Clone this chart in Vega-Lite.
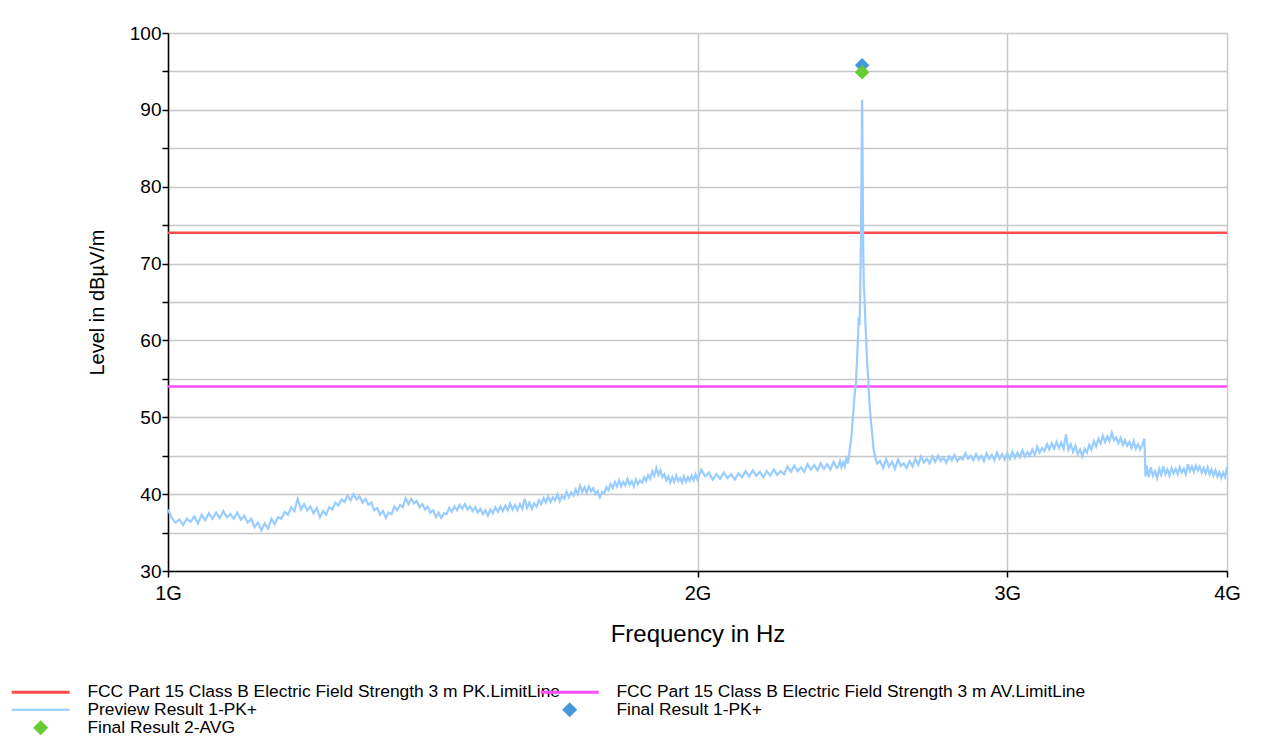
{
  "$schema": "https://vega.github.io/schema/vega-lite/v6.json",
  "autosize": {"type": "none"},
  "width": 1059,
  "height": 538,
  "padding": {"left": 168, "top": 33, "right": 36, "bottom": 170},
  "background": "white",
  "config": {
    "font": "Liberation Sans",
    "view": {"stroke": null},
    "axis": {
      "domainColor": "#000000",
      "domainWidth": 1.5,
      "tickColor": "#000000",
      "tickWidth": 1.5,
      "gridColor": "#c8c8c8",
      "gridWidth": 1.5,
      "labelColor": "#000000",
      "titleColor": "#000000",
      "labelFont": "Liberation Sans",
      "titleFont": "Liberation Sans",
      "titleFontWeight": "normal"
    },
    "legend": {"labelColor": "#000000", "labelFont": "Liberation Sans"}
  },
  "datasets": {
    "limits": [
      {"series": "FCC Part 15 Class B Electric Field Strength 3 m PK.LimitLine", "f": 1, "l": 74},
      {"series": "FCC Part 15 Class B Electric Field Strength 3 m PK.LimitLine", "f": 4, "l": 74},
      {"series": "FCC Part 15 Class B Electric Field Strength 3 m AV.LimitLine", "f": 1, "l": 54},
      {"series": "FCC Part 15 Class B Electric Field Strength 3 m AV.LimitLine", "f": 4, "l": 54}
    ],
    "finals": [
      {"series": "Final Result 1-PK+", "f": 2.481, "l": 95.8},
      {"series": "Final Result 2-AVG", "f": 2.481, "l": 94.9}
    ],
    "preview": [
      {"f":1.000,"l":38.0},{"f":1.005,"l":36.9},{"f":1.010,"l":36.3},{"f":1.015,"l":36.7},{"f":1.020,"l":36.0},{"f":1.025,"l":36.8},{"f":1.030,"l":36.4},{"f":1.035,"l":37.1},{"f":1.040,"l":36.2},{"f":1.045,"l":37.3},{"f":1.050,"l":36.6},{"f":1.055,"l":37.5},{"f":1.060,"l":36.8},{"f":1.065,"l":37.6},{"f":1.070,"l":36.9},{"f":1.075,"l":37.8},{"f":1.080,"l":37.0},{"f":1.085,"l":37.4},{"f":1.090,"l":36.8},{"f":1.095,"l":37.6},{"f":1.100,"l":36.7},
      {"f":1.105,"l":37.2},{"f":1.110,"l":36.3},{"f":1.115,"l":36.8},{"f":1.120,"l":35.7},{"f":1.125,"l":36.3},{"f":1.130,"l":35.3},{"f":1.135,"l":36.2},{"f":1.140,"l":35.5},{"f":1.145,"l":36.8},{"f":1.150,"l":36.1},{"f":1.155,"l":37.0},{"f":1.160,"l":36.8},{"f":1.165,"l":37.7},{"f":1.170,"l":37.3},{"f":1.175,"l":38.3},{"f":1.180,"l":37.8},{"f":1.185,"l":39.4},{"f":1.190,"l":38.0},{"f":1.195,"l":38.7},{"f":1.200,"l":37.9},
      {"f":1.205,"l":38.4},{"f":1.210,"l":37.5},{"f":1.215,"l":38.2},{"f":1.220,"l":37.0},{"f":1.225,"l":37.8},{"f":1.230,"l":37.3},{"f":1.235,"l":38.3},{"f":1.240,"l":38.0},{"f":1.245,"l":38.9},{"f":1.250,"l":38.5},{"f":1.255,"l":39.3},{"f":1.260,"l":39.0},{"f":1.265,"l":39.8},{"f":1.270,"l":39.2},{"f":1.275,"l":40.0},{"f":1.280,"l":39.3},{"f":1.285,"l":39.7},{"f":1.290,"l":38.9},{"f":1.295,"l":39.4},{"f":1.300,"l":38.6},
      {"f":1.305,"l":38.9},{"f":1.310,"l":37.9},{"f":1.315,"l":38.2},{"f":1.320,"l":37.3},{"f":1.325,"l":37.8},{"f":1.330,"l":36.9},{"f":1.335,"l":37.6},{"f":1.340,"l":37.4},{"f":1.345,"l":38.4},{"f":1.350,"l":37.9},{"f":1.355,"l":38.6},{"f":1.360,"l":38.3},{"f":1.365,"l":39.5},{"f":1.370,"l":38.7},{"f":1.375,"l":39.4},{"f":1.380,"l":38.8},{"f":1.385,"l":39.1},{"f":1.390,"l":38.3},{"f":1.395,"l":38.7},{"f":1.400,"l":38.0},
      {"f":1.405,"l":38.4},{"f":1.410,"l":37.6},{"f":1.415,"l":37.9},{"f":1.420,"l":37.0},{"f":1.425,"l":37.6},{"f":1.430,"l":36.9},{"f":1.435,"l":37.5},{"f":1.440,"l":37.4},{"f":1.445,"l":38.2},{"f":1.450,"l":37.7},{"f":1.455,"l":38.4},{"f":1.460,"l":37.9},{"f":1.465,"l":38.6},{"f":1.470,"l":38.1},{"f":1.475,"l":38.7},{"f":1.480,"l":38.0},{"f":1.485,"l":38.4},{"f":1.490,"l":37.8},{"f":1.495,"l":38.3},{"f":1.500,"l":37.6},
      {"f":1.505,"l":38.1},{"f":1.510,"l":37.4},{"f":1.515,"l":37.9},{"f":1.520,"l":37.2},{"f":1.525,"l":38.0},{"f":1.530,"l":37.5},{"f":1.535,"l":38.3},{"f":1.540,"l":37.7},{"f":1.545,"l":38.4},{"f":1.550,"l":37.8},{"f":1.555,"l":38.5},{"f":1.560,"l":37.9},{"f":1.565,"l":38.8},{"f":1.570,"l":38.0},{"f":1.575,"l":38.6},{"f":1.580,"l":37.9},{"f":1.585,"l":38.7},{"f":1.590,"l":38.1},{"f":1.595,"l":39.4},{"f":1.600,"l":38.2},
      {"f":1.605,"l":38.9},{"f":1.610,"l":38.1},{"f":1.615,"l":38.8},{"f":1.620,"l":38.4},{"f":1.625,"l":39.2},{"f":1.630,"l":38.7},{"f":1.635,"l":39.5},{"f":1.640,"l":38.9},{"f":1.645,"l":39.7},{"f":1.650,"l":39.0},{"f":1.655,"l":39.6},{"f":1.660,"l":39.2},{"f":1.665,"l":40.0},{"f":1.670,"l":39.1},{"f":1.675,"l":39.8},{"f":1.680,"l":39.4},{"f":1.685,"l":40.3},{"f":1.690,"l":39.6},{"f":1.695,"l":40.2},{"f":1.700,"l":39.8},
      {"f":1.705,"l":40.6},{"f":1.710,"l":40.0},{"f":1.715,"l":41.1},{"f":1.720,"l":40.3},{"f":1.725,"l":40.9},{"f":1.730,"l":40.2},{"f":1.735,"l":41.0},{"f":1.740,"l":40.4},{"f":1.745,"l":40.8},{"f":1.750,"l":40.0},{"f":1.755,"l":40.4},{"f":1.760,"l":39.6},{"f":1.765,"l":40.3},{"f":1.770,"l":40.1},{"f":1.775,"l":40.9},{"f":1.780,"l":40.5},{"f":1.785,"l":41.3},{"f":1.790,"l":40.8},{"f":1.795,"l":41.6},{"f":1.800,"l":41.0},
      {"f":1.805,"l":41.8},{"f":1.810,"l":41.0},{"f":1.815,"l":41.6},{"f":1.820,"l":41.1},{"f":1.825,"l":42.0},{"f":1.830,"l":41.2},{"f":1.835,"l":41.7},{"f":1.840,"l":41.0},{"f":1.845,"l":41.9},{"f":1.850,"l":41.3},{"f":1.855,"l":41.8},{"f":1.860,"l":41.5},{"f":1.865,"l":42.2},{"f":1.870,"l":41.7},{"f":1.875,"l":42.5},{"f":1.880,"l":42.0},{"f":1.885,"l":43.0},{"f":1.890,"l":42.4},{"f":1.895,"l":43.4},{"f":1.900,"l":42.5},
      {"f":1.905,"l":43.1},{"f":1.910,"l":42.2},{"f":1.915,"l":42.6},{"f":1.920,"l":41.8},{"f":1.925,"l":42.3},{"f":1.930,"l":41.5},{"f":1.935,"l":42.2},{"f":1.940,"l":41.6},{"f":1.945,"l":42.4},{"f":1.950,"l":41.7},{"f":1.955,"l":42.1},{"f":1.960,"l":41.5},{"f":1.965,"l":42.3},{"f":1.970,"l":41.6},{"f":1.975,"l":42.2},{"f":1.980,"l":41.7},{"f":1.985,"l":42.4},{"f":1.990,"l":41.8},{"f":1.995,"l":42.6},{"f":2.000,"l":41.9},
      {"f":2.01,"l":43.2},{"f":2.02,"l":42.3},{"f":2.03,"l":42.8},{"f":2.04,"l":41.9},{"f":2.05,"l":42.6},{"f":2.06,"l":42.0},{"f":2.07,"l":42.8},{"f":2.08,"l":42.1},{"f":2.09,"l":42.6},{"f":2.10,"l":41.9},{"f":2.11,"l":42.7},{"f":2.12,"l":42.2},{"f":2.13,"l":43.0},{"f":2.14,"l":42.3},{"f":2.15,"l":43.1},{"f":2.16,"l":42.4},{"f":2.17,"l":42.9},{"f":2.18,"l":42.2},{"f":2.19,"l":43.0},{"f":2.20,"l":42.4},
      {"f":2.21,"l":43.2},{"f":2.22,"l":42.5},{"f":2.23,"l":43.0},{"f":2.24,"l":42.6},{"f":2.25,"l":43.6},{"f":2.26,"l":42.9},{"f":2.27,"l":43.7},{"f":2.28,"l":43.0},{"f":2.29,"l":43.5},{"f":2.30,"l":42.9},{"f":2.31,"l":43.9},{"f":2.32,"l":43.2},{"f":2.33,"l":43.8},{"f":2.34,"l":43.1},{"f":2.35,"l":44.0},{"f":2.36,"l":43.3},{"f":2.37,"l":43.9},{"f":2.38,"l":43.2},{"f":2.39,"l":44.2},{"f":2.40,"l":43.4},
      {"f":2.405,"l":43.6},{"f":2.410,"l":44.3},{"f":2.415,"l":43.5},{"f":2.420,"l":44.1},{"f":2.425,"l":43.6},{"f":2.430,"l":44.6},{"f":2.435,"l":44.0},{"f":2.440,"l":45.3},{"f":2.4415,"l":46.0},{"f":2.445,"l":47.0},{"f":2.448,"l":48.2},{"f":2.451,"l":50.0},{"f":2.455,"l":52.0},{"f":2.458,"l":53.6},{"f":2.461,"l":54.5},{"f":2.4645,"l":57.5},{"f":2.4677,"l":60.5},{"f":2.470,"l":63.0},{"f":2.4725,"l":62.0},{"f":2.4742,"l":65.0},{"f":2.4775,"l":74.0},{"f":2.4795,"l":85.0},{"f":2.481,"l":91.3},{"f":2.4825,"l":84.0},{"f":2.4844,"l":72.0},{"f":2.4865,"l":67.0},{"f":2.4877,"l":66.5},{"f":2.4910,"l":63.0},{"f":2.4943,"l":60.0},{"f":2.4975,"l":57.0},{"f":2.501,"l":55.0},{"f":2.504,"l":52.5},{"f":2.5075,"l":50.5},{"f":2.511,"l":49.0},{"f":2.514,"l":47.8},{"f":2.518,"l":46.0},{"f":2.5237,"l":44.8},{"f":2.53,"l":44.0},
      {"f":2.54,"l":44.3},{"f":2.55,"l":43.4},{"f":2.56,"l":44.6},{"f":2.57,"l":43.6},{"f":2.58,"l":44.2},{"f":2.59,"l":43.3},{"f":2.60,"l":44.5},{"f":2.61,"l":43.7},{"f":2.62,"l":44.0},{"f":2.63,"l":43.4},{"f":2.64,"l":44.3},{"f":2.65,"l":43.6},{"f":2.66,"l":44.6},{"f":2.67,"l":43.8},{"f":2.68,"l":44.9},{"f":2.69,"l":44.1},{"f":2.70,"l":44.6},{"f":2.71,"l":44.0},{"f":2.72,"l":44.9},{"f":2.73,"l":44.2},{"f":2.74,"l":45.0},{"f":2.75,"l":44.3},{"f":2.76,"l":44.8},{"f":2.77,"l":44.1},{"f":2.78,"l":44.9},{"f":2.79,"l":44.4},{"f":2.80,"l":45.1},{"f":2.81,"l":44.3},{"f":2.82,"l":44.8},{"f":2.83,"l":44.5},{"f":2.84,"l":45.3},{"f":2.85,"l":44.6},{"f":2.86,"l":45.0},{"f":2.87,"l":44.4},{"f":2.88,"l":45.2},{"f":2.89,"l":44.5},{"f":2.90,"l":45.0},{"f":2.91,"l":44.3},{"f":2.92,"l":45.3},{"f":2.93,"l":44.6},{"f":2.94,"l":45.1},{"f":2.95,"l":44.4},{"f":2.96,"l":45.4},{"f":2.97,"l":44.6},{"f":2.98,"l":45.2},{"f":2.99,"l":44.5},
      {"f":3.00,"l":45.3},{"f":3.01,"l":44.6},{"f":3.02,"l":45.5},{"f":3.03,"l":44.7},{"f":3.04,"l":45.4},{"f":3.05,"l":44.8},{"f":3.06,"l":45.7},{"f":3.07,"l":44.9},{"f":3.08,"l":45.5},{"f":3.09,"l":45.0},{"f":3.10,"l":45.8},{"f":3.11,"l":45.1},{"f":3.12,"l":46.2},{"f":3.13,"l":45.4},{"f":3.14,"l":46.0},{"f":3.15,"l":45.6},{"f":3.16,"l":46.5},{"f":3.17,"l":45.8},{"f":3.18,"l":46.6},{"f":3.19,"l":45.9},{"f":3.20,"l":46.8},{"f":3.21,"l":46.0},{"f":3.22,"l":46.7},{"f":3.23,"l":45.9},{"f":3.24,"l":47.8},{"f":3.25,"l":45.8},{"f":3.26,"l":46.5},{"f":3.27,"l":45.5},{"f":3.28,"l":46.3},{"f":3.29,"l":45.2},{"f":3.30,"l":45.8},{"f":3.31,"l":44.9},{"f":3.32,"l":45.9},{"f":3.33,"l":45.4},{"f":3.34,"l":46.4},{"f":3.35,"l":45.8},{"f":3.36,"l":46.9},{"f":3.37,"l":46.2},{"f":3.38,"l":47.2},{"f":3.39,"l":46.6},{"f":3.40,"l":47.6},{"f":3.41,"l":46.8},{"f":3.42,"l":47.5},{"f":3.43,"l":46.9},{"f":3.44,"l":48.0},{"f":3.45,"l":47.0},{"f":3.46,"l":47.4},{"f":3.47,"l":46.6},{"f":3.48,"l":47.3},{"f":3.49,"l":46.4},{"f":3.50,"l":47.0},{"f":3.51,"l":46.3},{"f":3.52,"l":46.8},{"f":3.53,"l":46.0},{"f":3.54,"l":46.9},{"f":3.55,"l":45.9},{"f":3.56,"l":46.5},{"f":3.57,"l":45.8},{"f":3.58,"l":46.4},{"f":3.59,"l":47.2},
      {"f":3.595,"l":42.3},{"f":3.60,"l":43.8},{"f":3.61,"l":42.2},{"f":3.62,"l":43.5},{"f":3.63,"l":42.4},{"f":3.64,"l":43.0},{"f":3.65,"l":42.1},{"f":3.66,"l":43.3},{"f":3.67,"l":42.5},{"f":3.68,"l":43.6},{"f":3.69,"l":42.6},{"f":3.70,"l":43.2},{"f":3.71,"l":42.4},{"f":3.72,"l":43.4},{"f":3.73,"l":42.7},{"f":3.74,"l":43.3},{"f":3.75,"l":42.6},{"f":3.76,"l":43.5},{"f":3.77,"l":42.8},{"f":3.78,"l":43.3},{"f":3.79,"l":42.6},{"f":3.80,"l":43.9},{"f":3.81,"l":43.0},{"f":3.82,"l":43.6},{"f":3.83,"l":42.9},{"f":3.84,"l":43.7},{"f":3.85,"l":43.1},{"f":3.86,"l":43.6},{"f":3.87,"l":42.8},{"f":3.88,"l":43.4},{"f":3.89,"l":42.7},{"f":3.90,"l":43.5},{"f":3.91,"l":42.6},{"f":3.92,"l":43.2},{"f":3.93,"l":42.4},{"f":3.94,"l":43.1},{"f":3.95,"l":42.3},{"f":3.96,"l":42.9},{"f":3.97,"l":42.1},{"f":3.98,"l":42.8},{"f":3.99,"l":42.2},{"f":4.00,"l":43.5}
    ]
  },
  "encoding": {
    "x": {
      "field": "f",
      "type": "quantitative",
      "scale": {"type": "log", "domain": [1, 4], "nice": false},
      "axis": {
        "title": "Frequency in Hz",
        "titleFontSize": 24,
        "titlePadding": 19,
        "values": [1, 2, 3, 4],
        "labelExpr": "datum.value + 'G'",
        "labelFontSize": 20,
        "labelPadding": 6,
        "labelFlush": false,
        "labelOverlap": false,
        "tickSize": 6
      }
    },
    "y": {
      "field": "l",
      "type": "quantitative",
      "scale": {"domain": [30, 100], "nice": false, "zero": false},
      "axis": {
        "title": "Level in dBµV/m",
        "titleFontSize": 20,
        "titlePadding": 22,
        "values": [30, 35, 40, 45, 50, 55, 60, 65, 70, 75, 80, 85, 90, 95, 100],
        "labelExpr": "datum.value % 10 === 0 ? datum.label : ''",
        "labelFontSize": 19,
        "labelPadding": 1,
        "labelFlush": false,
        "labelOverlap": false,
        "tickSize": 6
      }
    }
  },
  "layer": [
    {
      "data": {"name": "limits"},
      "mark": {"type": "line", "strokeWidth": 2.5},
      "encoding": {
        "color": {
          "field": "series",
          "type": "nominal",
          "scale": {
            "domain": [
              "FCC Part 15 Class B Electric Field Strength 3 m PK.LimitLine",
              "FCC Part 15 Class B Electric Field Strength 3 m AV.LimitLine",
              "Preview Result 1-PK+",
              "Final Result 1-PK+",
              "Final Result 2-AVG"
            ],
            "range": ["#ff4d4d", "#ff4cff", "#99ccff", "#4499dd", "#66cc33"]
          },
          "legend": {
            "title": null,
            "orient": "none",
            "legendX": -136,
            "legendY": 650,
            "direction": "horizontal",
            "columns": 2,
            "columnPadding": -35,
            "rowPadding": -3,
            "labelFontSize": 17.4,
            "labelLimit": 700,
            "labelOffset": 38,
            "symbolSize": 225,
            "symbolStrokeWidth": 0,
            "encode": {
              "symbols": {
                "update": {
                  "shape": {"scale": "shape", "field": "value"},
                  "fill": {"scale": "color", "field": "value"},
                  "strokeWidth": {"value": 0},
                  "opacity": {"value": 1}
                }
              }
            }
          }
        }
      }
    },
    {
      "data": {"name": "preview"},
      "mark": {"type": "line", "strokeWidth": 2.2},
      "encoding": {
        "color": {"datum": "Preview Result 1-PK+", "type": "nominal"}
      }
    },
    {
      "data": {"name": "finals"},
      "mark": {"type": "point", "filled": true, "size": 210, "opacity": 1},
      "encoding": {
        "color": {"field": "series", "type": "nominal"},
        "shape": {
          "field": "series",
          "type": "nominal",
          "scale": {
            "domain": [
              "FCC Part 15 Class B Electric Field Strength 3 m PK.LimitLine",
              "FCC Part 15 Class B Electric Field Strength 3 m AV.LimitLine",
              "Preview Result 1-PK+",
              "Final Result 1-PK+",
              "Final Result 2-AVG"
            ],
            "range": ["M-3.87,-0.2H3.87V0.2H-3.87Z", "M-3.87,-0.2H3.87V0.2H-3.87Z", "M-3.87,-0.13H3.87V0.13H-3.87Z", "diamond", "diamond"]
          },
          "legend": null
        }
      }
    }
  ]
}
